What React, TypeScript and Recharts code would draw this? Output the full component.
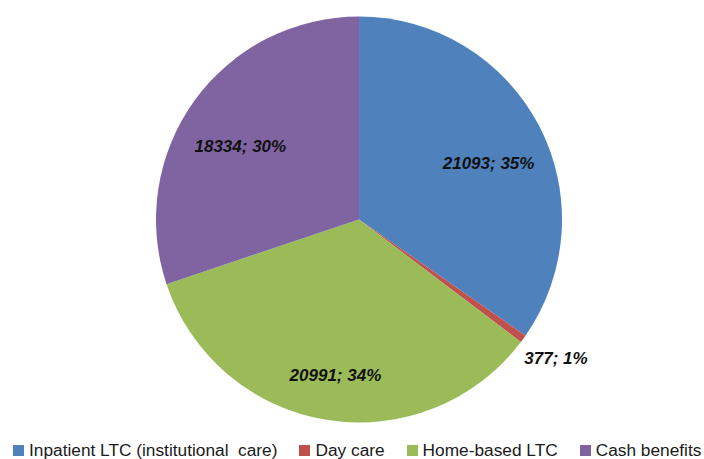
import React from "react";
import { PieChart, Pie, Cell, Legend } from "recharts";

const categories = [
  "Inpatient LTC (institutional  care)",
  "Day care",
  "Home-based LTC",
  "Cash benefits",
];
const values = [21093, 377, 20991, 18334];
const percents = ["35%", "1%", "34%", "30%"];
const colors = ["#4F81BD", "#C0504D", "#9BBB59", "#8064A2"];

const data = categories.map((name, i) => ({ name, value: values[i], pct: percents[i] }));

const RAD = Math.PI / 180;
const FONT = "'Liberation Sans', Arial, sans-serif";

const renderLabel = (props: any) => {
  const { cx, cy, midAngle, outerRadius, index } = props;
  const outside = index === 1;
  const r = outside ? outerRadius * 1.2 : outerRadius * 0.72;
  const x = cx + r * Math.cos(-midAngle * RAD);
  const y = cy + r * Math.sin(-midAngle * RAD) + (outside ? -4 : 12);
  return (
    <text
      x={x}
      y={y}
      textAnchor="middle"
      dominantBaseline="central"
      fill="#111"
      fontFamily={FONT}
      fontSize={17}
      fontWeight="bold"
      fontStyle="italic"
    >
      {`${data[index].value}; ${data[index].pct}`}
    </text>
  );
};

const renderLegend = (props: any) => {
  const payload = [...(props.payload || [])].sort(
    (a: any, b: any) => categories.indexOf(a.value) - categories.indexOf(b.value)
  );
  return (
    <div
      style={{
        display: "flex",
        flexDirection: "row",
        alignItems: "center",
        paddingLeft: 13,
        height: 18,
        fontFamily: FONT,
        fontSize: 17.3,
        color: "#1a1a1a",
        whiteSpace: "pre",
      }}
    >
      {payload.map((entry: any, i: number) => (
        <div
          key={i}
          style={{ display: "flex", alignItems: "center", marginRight: 22 }}
        >
          <span
            style={{
              display: "inline-block",
              width: 11,
              height: 11,
              background: entry.color,
              marginRight: 5,
            }}
          />
          <span style={{ lineHeight: "18px" }}>{entry.value}</span>
        </div>
      ))}
    </div>
  );
};

export default function App() {
  return (
    <div style={{ position: "absolute", left: 0, top: 0, width: 704, height: 459, background: "#fff" }}>
      <PieChart width={704} height={459} margin={{ top: 0, right: 0, bottom: 0, left: 0 }}>
        <Pie
          data={data}
          dataKey="value"
          nameKey="name"
          cx={359}
          cy={219.5}
          outerRadius={203}
          startAngle={90}
          endAngle={-270}
          stroke="none"
          label={renderLabel}
          labelLine={false}
          isAnimationActive={false}
        >
          {data.map((d, i) => (
            <Cell key={d.name} fill={colors[i]} />
          ))}
        </Pie>
        <Legend
          verticalAlign="bottom"
          itemSorter={null as any}
          content={renderLegend}
          wrapperStyle={{ left: 0, bottom: 0, width: 704 }}
        />
      </PieChart>
    </div>
  );
}
